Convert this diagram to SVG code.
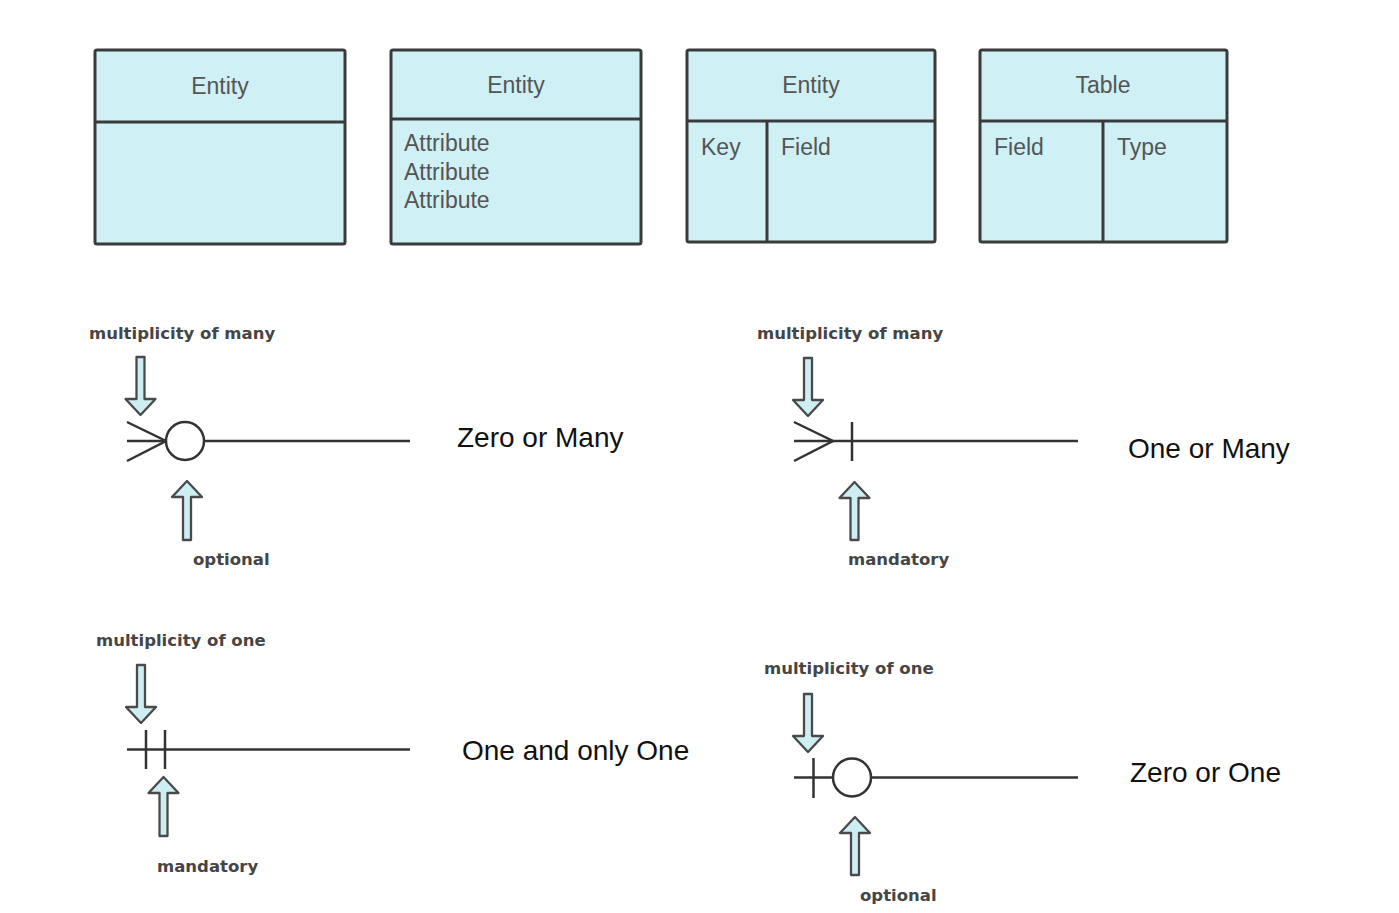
<svg xmlns="http://www.w3.org/2000/svg" width="1399" height="913" viewBox="0 0 1399 913">
<defs>
<style>
.box{fill:#cff0f5;stroke:#3a3a3a;stroke-width:3}
.div{stroke:#3a3a3a;stroke-width:3;fill:none}
.bt{font-family:"Liberation Sans",Arial,sans-serif;font-size:23px;fill:#555}
.big{font-family:"Liberation Sans",Arial,sans-serif;font-size:28px;fill:#111}
.sm{font-family:"DejaVu Sans",Verdana,sans-serif;font-weight:bold;font-size:16.5px;fill:#454545}
.arr{fill:#cdeef3;stroke:#4a4a4a;stroke-width:2.3;stroke-linejoin:round}
.ln{stroke:#333;stroke-width:2.5;fill:none}
.ring{stroke:#333;stroke-width:2.5;fill:#fff}
</style>
</defs>
<rect width="1399" height="913" fill="#fff"/>

<g id="entity1">
<rect class="box" x="95" y="50" width="250" height="194" rx="2"/>
<line class="div" x1="95" y1="122" x2="345" y2="122"/>
<text class="bt" x="220" y="94" text-anchor="middle">Entity</text>
</g>
<g id="entity2">
<rect class="box" x="391" y="50" width="250" height="194" rx="2"/>
<line class="div" x1="391" y1="119" x2="641" y2="119"/>
<text class="bt" x="516" y="93" text-anchor="middle">Entity</text>
<text class="bt" x="404" y="151">Attribute</text>
<text class="bt" x="404" y="180">Attribute</text>
<text class="bt" x="404" y="208">Attribute</text>
</g>
<g id="entity3">
<rect class="box" x="687" y="50" width="248" height="192" rx="2"/>
<line class="div" x1="687" y1="121" x2="935" y2="121"/>
<line class="div" x1="767" y1="121" x2="767" y2="242"/>
<text class="bt" x="811" y="93" text-anchor="middle">Entity</text>
<text class="bt" x="701" y="155">Key</text>
<text class="bt" x="781" y="155">Field</text>
</g>
<g id="table1">
<rect class="box" x="980" y="50" width="247" height="192" rx="2"/>
<line class="div" x1="980" y1="121" x2="1227" y2="121"/>
<line class="div" x1="1103" y1="121" x2="1103" y2="242"/>
<text class="bt" x="1103" y="93" text-anchor="middle">Table</text>
<text class="bt" x="994" y="155">Field</text>
<text class="bt" x="1117" y="155">Type</text>
</g>

<g id="connectors">
<line class="ln" x1="127" y1="441" x2="410" y2="441"/>
<polyline class="ln" points="127,422 166,441 127,461"/>
<circle class="ring" cx="185" cy="441" r="19"/>
<line class="ln" x1="794" y1="441" x2="1078" y2="441"/>
<polyline class="ln" points="794,422 833,441 794,461"/>
<line class="ln" x1="852" y1="422" x2="852" y2="461"/>
<line class="ln" x1="127" y1="749.5" x2="410" y2="749.5"/>
<line class="ln" x1="146" y1="730" x2="146" y2="769"/>
<line class="ln" x1="165" y1="730" x2="165" y2="769"/>
<line class="ln" x1="794" y1="777.5" x2="1078" y2="777.5"/>
<line class="ln" x1="813.5" y1="758" x2="813.5" y2="798"/>
<circle class="ring" cx="852" cy="777.5" r="19"/>
</g>

<g id="pointers">
<path class="arr" d="M136.5,357 H144.5 V399 H155.5 L140.5,415 L125.5,399 H136.5 Z"/>
<path class="arr" d="M187,481 L202,497 H191 V540 H183 V497 H172 Z"/>
<path class="arr" d="M804,358 H812 V400 H823 L808,416 L793,400 H804 Z"/>
<path class="arr" d="M854.5,482 L869.5,498 H858.5 V540 H850.5 V498 H839.5 Z"/>
<path class="arr" d="M137,665 H145 V707 H156 L141,723 L126,707 H137 Z"/>
<path class="arr" d="M163.5,777 L178.5,793 H167.5 V836 H159.5 V793 H148.5 Z"/>
<path class="arr" d="M804,694 H812 V736 H823 L808,752 L793,736 H804 Z"/>
<path class="arr" d="M855,817 L870,833 H859 V875 H851 V833 H840 Z"/>
</g>

<g id="labels">
<text class="sm" x="89" y="339">multiplicity of many</text>
<text class="sm" x="193" y="565">optional</text>
<text class="sm" x="757" y="339">multiplicity of many</text>
<text class="sm" x="848" y="565">mandatory</text>
<text class="sm" x="96" y="646">multiplicity of one</text>
<text class="sm" x="157" y="872">mandatory</text>
<text class="sm" x="764" y="674">multiplicity of one</text>
<text class="sm" x="860" y="901">optional</text>
<text class="big" x="457" y="447">Zero or Many</text>
<text class="big" x="1128" y="458">One or Many</text>
<text class="big" x="462" y="760">One and only One</text>
<text class="big" x="1130" y="782">Zero or One</text>
</g>
</svg>
